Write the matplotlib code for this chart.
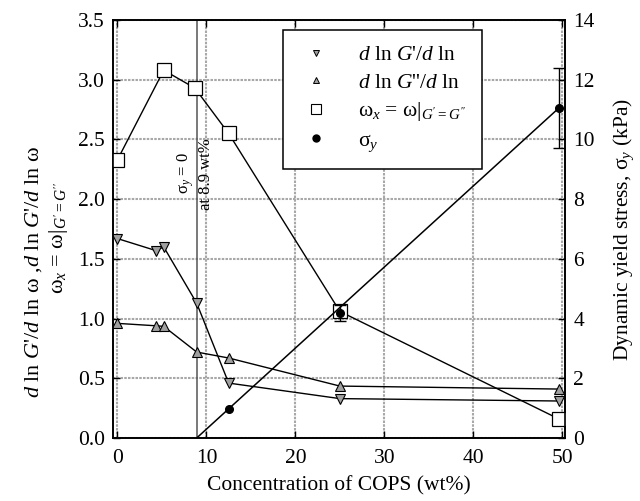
import matplotlib
matplotlib.use("Agg")
import matplotlib.pyplot as plt
from matplotlib.lines import Line2D

plt.rcParams['font.family'] = ['Liberation Serif', 'DejaVu Serif']
plt.rcParams['mathtext.fontset'] = 'custom'
plt.rcParams['mathtext.rm'] = 'Liberation Serif'
plt.rcParams['mathtext.it'] = 'Liberation Serif:italic'
plt.rcParams['mathtext.bf'] = 'Liberation Serif:bold'

#concentration of COPS (wt%) for the slope / crossover data
conc = [0.0, 4.3, 5.2, 8.9, 12.5, 25.0, 49.6]
slope_storage = [1.67, 1.57, 1.60, 1.13, 0.46, 0.33, 0.31]   #d ln G'/d ln w
slope_loss = [0.96, 0.94, 0.935, 0.72, 0.67, 0.435, 0.41]    #d ln G''/d ln w

#crossover frequency points
cross_conc = [0.0, 5.2, 8.7, 12.5, 25.0, 49.6]
cross_freq = [2.33, 3.08, 2.93, 2.55, 1.06, 0.16]

#dynamic yield stress (kPa) with error bars
yield_conc = [12.5, 25.0, 49.6]
yield_stress = [0.97, 4.19, 11.05]
yield_err = [0.0, 0.27, 1.35]

#linear fit of yield stress, zero at 8.9 wt%
fit_conc = [8.9, 49.6]
fit_stress = [0.0, 11.05]
zero_conc = 8.9

x_ticks = [0, 10, 20, 30, 40, 50]
y_ticks = [0.0, 0.5, 1.0, 1.5, 2.0, 2.5, 3.0, 3.5]
y2_ticks = [0, 2, 4, 6, 8, 10, 12, 14]

fs = 15.5

fig = plt.figure(figsize=(6.4, 5.01), dpi=100)
ax = fig.add_axes([0.1766, 0.1257, 0.7062, 0.8343])
ax2 = ax.twinx()

ax.set_xlim(-0.5, 50.3)
ax.set_ylim(0, 3.5)
ax2.set_ylim(0, 14)
ax.set_xticks(x_ticks)
ax.set_yticks(y_ticks)
ax.set_yticklabels([f"{v:.1f}" for v in y_ticks])
ax2.set_yticks(y2_ticks)

ax.grid(True, color='#a8a8a8', linestyle=(0, (1.2, 0.6)), linewidth=1.5)
ax.set_axisbelow(True)

ax.tick_params(direction='in', labelsize=fs, top=True, length=5, width=1, pad=6)
ax.tick_params(axis='x', pad=8)
ax2.tick_params(direction='in', labelsize=fs, length=5, width=1, pad=6)
for a in (ax, ax2):
    for sp in a.spines.values():
        sp.set_linewidth(1.2)

#vertical line where yield stress vanishes
ax.axvline(zero_conc, color='#555555', linewidth=1.1, zorder=1)
ax.text(7.7, 2.22, r"σ$_y$ = 0", rotation=90, ha='center', va='center', fontsize=12)
ax.text(9.95, 2.21, "at 8.9 wt%", rotation=90, ha='center', va='center', fontsize=12)

#slopes and crossover on the left axis
ax.plot(conc, slope_storage, color='black', linewidth=1, marker='v', markersize=7,
        markerfacecolor='#a0a0a0', markeredgecolor='black', markeredgewidth=0.8, zorder=3)
ax.plot(conc, slope_loss, color='black', linewidth=1, marker='^', markersize=7,
        markerfacecolor='#a0a0a0', markeredgecolor='black', markeredgewidth=0.8, zorder=3)
ax.plot(cross_conc, cross_freq, color='black', linewidth=1, marker='s', markersize=10,
        markerfacecolor='white', markeredgecolor='black', markeredgewidth=0.9, zorder=3)

#yield stress on the right axis
ax2.plot(fit_conc, fit_stress, color='black', linewidth=1.1)
ax2.plot(yield_conc, yield_stress, 'o', color='black', markersize=5.5)
err_pts = [(c, s, e) for c, s, e in zip(yield_conc, yield_stress, yield_err) if e > 0]
ax2.errorbar([p[0] for p in err_pts], [p[1] for p in err_pts], yerr=[p[2] for p in err_pts],
             fmt='none', ecolor='black', capsize=4, elinewidth=1, capthick=1)

ax.set_xlabel("Concentration of COPS (wt%)", fontsize=fs, labelpad=6)
ax2.set_ylabel(r"Dynamic yield stress, σ$_y$ (kPa)", fontsize=fs, labelpad=12)

#two-line left axis label
fig.text(0.052, 0.458, r"$d$ ln $G$'/$d$ ln ω ,$d$ ln $G$'/$d$ ln ω", rotation=90,
         ha='center', va='center', fontsize=16)
fig.text(0.092, 0.525, r"ω$_x$ = ω|$_{G' = G''}$", rotation=90,
         ha='center', va='center', fontsize=16)

handles = [
    Line2D([], [], linestyle='none', marker='v', markersize=5, markerfacecolor='#a0a0a0',
           markeredgecolor='black', markeredgewidth=0.7),
    Line2D([], [], linestyle='none', marker='^', markersize=5, markerfacecolor='#a0a0a0',
           markeredgecolor='black', markeredgewidth=0.7),
    Line2D([], [], linestyle='none', marker='s', markersize=7, markerfacecolor='white',
           markeredgecolor='black', markeredgewidth=0.8),
    Line2D([], [], linestyle='none', marker='o', markersize=5, color='black'),
]
labels = [r"$d$ ln $G$'/$d$ ln", r"$d$ ln $G$''/$d$ ln", r"ω$_x$ = ω|$_{G'= G''}$", r"σ$_y$"]
leg = ax2.legend(handles, labels, loc='upper left', bbox_to_anchor=(0.376, 0.976),
                 borderaxespad=0, fontsize=fs, fancybox=False, framealpha=1,
                 edgecolor='black', handlelength=1.7, handletextpad=1.1,
                 labelspacing=0.35, borderpad=0.7)
leg.get_frame().set_linewidth(1.1)

fig.savefig("out.png", dpi=100)
